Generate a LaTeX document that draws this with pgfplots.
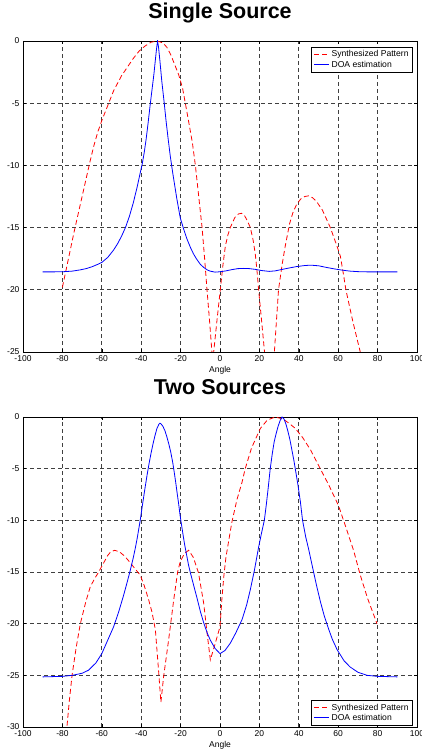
\documentclass[border=0pt]{standalone}
\usepackage{fontspec}
\setmainfont{Liberation Sans}
\usepackage{pgfplots}
\pgfplotsset{compat=1.18}
\begin{document}
\begin{tikzpicture}
\useasboundingbox (0,0) rectangle (422pt,751pt);
\pgfplotsset{
 myaxis/.style={
  scale only axis, width=394pt,
  xmin=-100, xmax=100, xtick={-100,-80,...,100},
  grid=major,
  major grid style={black!75, line width=0.7pt, dash pattern=on 4pt off 3pt},
  axis line style={black, line width=0.9pt},
  tick align=inside, major tick length=3pt,
  tick style={black, line width=0.6pt},
  ticklabel style={font=\fontsize{8.5}{10}\selectfont},
  /pgf/number format/assume math mode=true,
  xlabel={Angle},
  xlabel style={font=\fontsize{8.5}{10}\selectfont, at={(axis description cs:0.5,0)}, anchor=center, yshift=-18pt},
  title style={font=\fontsize{21.5}{26}\selectfont\bfseries, at={(axis description cs:0.5,1)}, anchor=base, yshift=16pt},
  legend cell align=left,
  legend image code/.code={\draw[##1] (0pt,0pt) -- (15pt,0pt);},
  legend style={font=\fontsize{8.6}{10.4}\selectfont, draw=black, line width=0.9pt, inner xsep=2pt, inner ysep=1.5pt, row sep=-1.5pt},
 },
 synth/.style={draw=red, color=red, line width=0.8pt, dash pattern=on 5pt off 3pt},
 doa/.style={draw=blue, color=blue, line width=0.8pt, solid},
}
% ---------------- Top: Single Source
\begin{axis}[myaxis, at={(23pt,399pt)}, anchor=south west, height=311pt,
  ymin=-25, ymax=0, ytick={-25,-20,...,0},
  title={Single Source},
  legend style={at={(1,1)}, anchor=north east, xshift=-4pt, yshift=-5.7pt}]
\addplot[synth] coordinates {
(-80,-19.8) (-78,-18.3) (-76,-16.8) (-74,-15.3) (-72,-13.9) (-70,-12.5) (-68,-11.1)
(-66,-9.7) (-64,-8.4) (-62,-7.3) (-60,-6.4) (-58,-5.6) (-56,-4.8) (-54,-4.0) (-52,-3.4)
(-50,-2.8) (-47,-2.1) (-44,-1.4) (-41,-0.8) (-38,-0.4) (-35,-0.1) (-32,0) (-29,-0.15)
(-27,-0.5) (-25,-1.1) (-23,-1.9) (-21,-2.7) (-19,-3.8) (-17.6,-5.0) (-16,-6.4) (-14,-8.2)
(-12.5,-10.0) (-10.8,-12.5) (-9.1,-15.0) (-7.8,-17.5) (-6.6,-20.0) (-5.3,-22.5) (-4.1,-25.0)
(-3.7,-27) (-3.2,-25.0) (-1.5,-22.4) (0.15,-20.0) (1.5,-18.0) (2.7,-16.5) (4,-15.6) (5.2,-15.0)
(7.5,-14.2) (9.4,-13.9) (11,-13.85) (12.5,-14.05) (13.7,-14.4) (15.4,-15.0) (16.8,-16.0)
(17.9,-17.1) (18.8,-18.5) (19.6,-20.0) (21,-22.3) (22.6,-25.0) (25,-30) (27.6,-25.0)
(29.7,-20.0) (31.5,-18.0) (33.1,-16.5) (35.3,-14.7) (37,-13.8) (39,-13.1) (41,-12.7)
(43,-12.5) (45,-12.45) (47,-12.6) (49,-12.9) (52,-13.6) (56,-15.0) (59.4,-16.5) (61.1,-17.3)
(62.5,-18.6) (63.9,-20.0) (67.5,-22.6) (71.2,-25.0) (73,-26.5)};
\addlegendentry{Synthesized Pattern}
\addplot[doa] coordinates {
(-90,-18.56) (-85,-18.56) (-80,-18.55) (-75,-18.5) (-71,-18.4) (-68,-18.3) (-65,-18.15)
(-62,-17.95) (-60,-17.8) (-57,-17.4) (-54,-16.8) (-52,-16.3) (-50,-15.7) (-48,-15.0)
(-46,-14.1) (-44,-13.0) (-42,-11.7) (-40.5,-10.6) (-39.5,-9.9) (-38.5,-9.0) (-37.5,-7.9)
(-36.5,-6.6) (-35.5,-5.2) (-34.5,-3.9) (-33.5,-2.6) (-32.8,-1.5)
(-32.2,-0.6) (-31.7,0) (-31.2,-0.5) (-30.5,-1.6) (-29.5,-3.3) (-28.3,-5.0) (-27.4,-6.4)
(-26.3,-7.9) (-25.2,-9.3) (-24,-10.6) (-22,-12.6) (-20.2,-14.2) (-18.5,-15.1) (-16.8,-15.9)
(-15,-16.6) (-13.5,-17.1) (-12,-17.5) (-10,-17.95) (-8.3,-18.2) (-6.5,-18.4) (-5,-18.5)
(-2.5,-18.58) (0,-18.55) (3,-18.48) (6,-18.38) (9,-18.3) (12,-18.28) (15,-18.3) (18,-18.36)
(21,-18.45) (25,-18.52) (28,-18.48) (31,-18.38) (35,-18.25) (39,-18.13) (43,-18.05)
(46,-18.02) (50,-18.07) (54,-18.2) (58,-18.32) (62,-18.42) (66,-18.5) (70,-18.54)
(75,-18.56) (80,-18.56) (85,-18.56) (90,-18.56)};
\addlegendentry{DOA estimation}
\end{axis}
% ---------------- Bottom: Two Sources
\begin{axis}[myaxis, at={(23pt,24pt)}, anchor=south west, height=310pt,
  ymin=-30, ymax=0, ytick={-30,-25,...,0},
  title={Two Sources},
  legend style={at={(1,0)}, anchor=south east, xshift=-4pt, yshift=1.3pt}]
\addplot[synth] coordinates {
(-80,-34.5) (-77.7,-30) (-76.5,-27.5) (-75.1,-25.0) (-73,-22.3) (-70.9,-20.0) (-68,-17.8)
(-65.8,-16.4) (-63.5,-15.6) (-61.6,-15.0) (-59,-14.1) (-57,-13.4) (-55.5,-13.05) (-53.5,-12.9)
(-51,-13.05) (-48.5,-13.45) (-46,-14.0) (-43.5,-14.6) (-40.5,-15.3) (-38.5,-16.3) (-36.2,-17.7)
(-34.5,-18.9) (-32.8,-20.6) (-31.2,-24.5) (-30,-27.6) (-28.6,-25.1) (-26.1,-21.6) (-23.5,-17.7)
(-21.5,-15.0) (-20.2,-14.0) (-18,-13.2) (-15.9,-12.9) (-13.5,-13.6) (-10.9,-15.1) (-8.3,-18.0)
(-6.5,-21.0) (-4.9,-23.5) (-2.4,-21.9) (0,-20.3) (1,-17.5) (2,-15.3) (3,-13.6) (4.4,-12.0)
(6,-10.2) (8.6,-8.0) (11.2,-6.3) (12.8,-5.0) (16,-3.0) (20.5,-1.1) (24,-0.3) (28,0) (32,-0.2)
(35,-0.6) (38.2,-1.1) (42,-2.0) (46,-3.2) (50.9,-5.0) (55,-6.5) (58.5,-7.9) (60.2,-8.6)
(62.7,-10.0) (65,-11.3) (67.8,-12.9) (71.2,-15.3) (75,-17.6) (79.7,-20.0)};
\addlegendentry{Synthesized Pattern}
\addplot[doa] coordinates {
(-90,-25.15) (-80,-25.1) (-75,-25.0) (-70,-24.8) (-66.7,-24.5) (-63,-23.8) (-60,-22.9)
(-57,-21.6) (-54,-20.3) (-51.5,-18.9) (-49,-17.3) (-47,-15.9) (-45.5,-14.8) (-44,-13.6)
(-43,-12.7) (-42,-11.7) (-40.5,-10.0) (-39.2,-8.3) (-38,-6.8) (-37,-5.6) (-36,-4.5)
(-35,-3.5) (-34,-2.6) (-33,-1.8) (-32,-1.1) (-31,-0.7) (-30.5,-0.6) (-30,-0.65) (-29,-0.9)
(-28,-1.3) (-27,-1.9) (-26,-2.6) (-25,-3.4) (-24,-4.4) (-23.5,-5.0) (-22.5,-6.3) (-21.8,-7.3)
(-21,-8.4) (-20.2,-9.6) (-19,-11.1) (-18,-12.3) (-17,-13.3) (-16,-14.3) (-15,-15.1)
(-13.5,-16.2) (-11.7,-17.5) (-10,-18.8) (-8.3,-19.9) (-6.5,-20.9)
(-4.9,-21.6) (-2.5,-22.4) (0,-22.9) (2.5,-22.6) (5.2,-21.9) (8,-20.9) (11.2,-19.6) (13.5,-18.2)
(15.4,-16.7) (17.5,-14.8) (19.6,-12.6) (21,-11.3) (22.5,-10.0) (23.5,-8.5) (24.5,-6.8)
(25.5,-5.0) (26.5,-3.6) (27.5,-2.4) (28.5,-1.6) (29.5,-0.9) (30.5,-0.35) (31.5,0) (32.5,-0.2)
(33.5,-0.7) (34.5,-1.4) (35.5,-2.2) (36.5,-3.2) (37.5,-4.2) (38.2,-5.0) (39.5,-6.5) (40.8,-8.2)
(41.9,-10.0) (43.5,-11.6) (45,-12.8) (47.5,-15.0) (49,-16.3) (51,-17.9) (53,-19.3) (55.1,-20.5)
(57,-21.5) (59.4,-22.5) (63,-23.6) (66.1,-24.2) (70,-24.7) (74.6,-25.0) (80,-25.1) (90,-25.15)};
\addlegendentry{DOA estimation}
\end{axis}
\end{tikzpicture}
\end{document}
